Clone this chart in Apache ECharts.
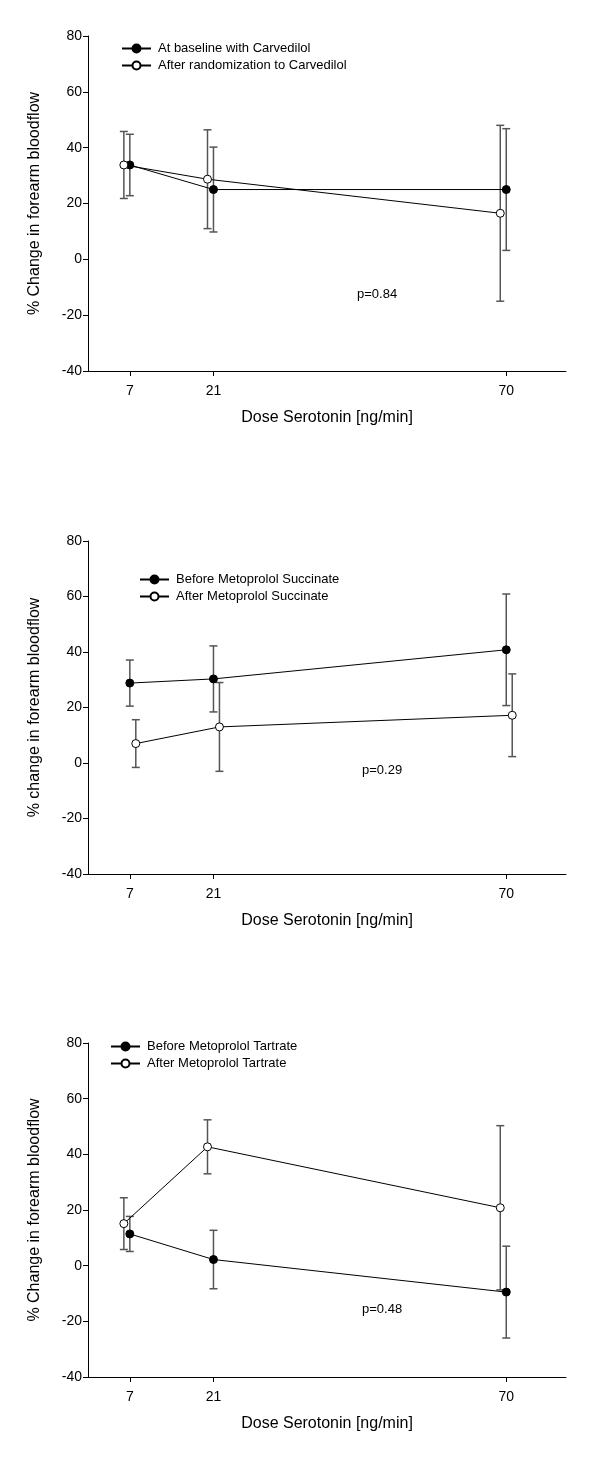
<!DOCTYPE html>
<html>
<head>
<meta charset="utf-8">
<script src="https://cdn.jsdelivr.net/npm/echarts@6/dist/echarts.min.js"></script>
<style>html,body{margin:0;padding:0;background:#fff}#c{width:600px;height:1459px}</style>
</head>
<body>
<div id="c"></div>
<script>
// ---------- data ----------
const doseTicks = [7, 21, 70];
const yTicks = { min: -40, max: 80, interval: 20 };

// Panel 1: Carvedilol
const p1Names = ['At baseline with Carvedilol', 'After randomization to Carvedilol'];
const p1FilledX = [7, 21, 70];
const p1FilledMean = [33.8, 25.0, 25.0];
const p1FilledErr = [11.0, 15.2, 21.8];
const p1OpenX = [6, 20, 69];
const p1OpenMean = [33.8, 28.7, 16.5];
const p1OpenErr = [12.0, 17.7, 31.5];
const p1P = 'p=0.84';

// Panel 2: Metoprolol Succinate
const p2Names = ['Before Metoprolol Succinate', 'After Metoprolol Succinate'];
const p2FilledX = [7, 21, 70];
const p2FilledMean = [28.8, 30.3, 40.8];
const p2FilledErr = [8.3, 11.9, 20.1];
const p2OpenX = [8, 22, 71];
const p2OpenMean = [7.0, 13.0, 17.2];
const p2OpenErr = [8.6, 16.0, 14.9];
const p2P = 'p=0.29';

// Panel 3: Metoprolol Tartrate
const p3Names = ['Before Metoprolol Tartrate', 'After Metoprolol Tartrate'];
const p3FilledX = [7, 21, 70];
const p3FilledMean = [11.4, 2.2, -9.5];
const p3FilledErr = [6.3, 10.5, 16.5];
const p3OpenX = [6, 20, 69];
const p3OpenMean = [15.1, 42.7, 20.8];
const p3OpenErr = [9.3, 9.7, 29.5];
const p3P = 'p=0.48';

const yTitles = ['% Change in forearm bloodflow', '% change in forearm bloodflow', '% Change in forearm bloodflow'];
const xTitle = 'Dose Serotonin [ng/min]';

// ---------- build ----------
const FONT = 'Liberation Sans, Arial, sans-serif';
const panels = [
  { names: p1Names, fx: p1FilledX, fm: p1FilledMean, fe: p1FilledErr, ox: p1OpenX, om: p1OpenMean, oe: p1OpenErr, p: p1P,
    top: 36, height: 335, legLeft: 121, legTop: 42, pX: 378, pY: 296 },
  { names: p2Names, fx: p2FilledX, fm: p2FilledMean, fe: p2FilledErr, ox: p2OpenX, om: p2OpenMean, oe: p2OpenErr, p: p2P,
    top: 541, height: 333, legLeft: 139, legTop: 573, pX: 383, pY: 772 },
  { names: p3Names, fx: p3FilledX, fm: p3FilledMean, fe: p3FilledErr, ox: p3OpenX, om: p3OpenMean, oe: p3OpenErr, p: p3P,
    top: 1043, height: 334, legLeft: 110, legTop: 1040, pX: 383, pY: 1311 }
];

const grids = [], xAxes = [], yAxes = [], series = [], legends = [], graphics = [];

function errSeries(i, xs, means, errs) {
  return {
    type: 'custom', xAxisIndex: i, yAxisIndex: i, silent: true, z: 1,
    data: xs.map((x, k) => [x, means[k] - errs[k], means[k] + errs[k]]),
    renderItem: function (params, api) {
      const lo = api.coord([api.value(0), api.value(1)]);
      const hi = api.coord([api.value(0), api.value(2)]);
      const w = 4;
      const st = { stroke: '#555', lineWidth: 1.5 };
      return { type: 'group', children: [
        { type: 'line', shape: { x1: lo[0], y1: lo[1], x2: hi[0], y2: hi[1] }, style: st },
        { type: 'line', shape: { x1: lo[0] - w, y1: lo[1], x2: lo[0] + w, y2: lo[1] }, style: st },
        { type: 'line', shape: { x1: hi[0] - w, y1: hi[1], x2: hi[0] + w, y2: hi[1] }, style: st }
      ]};
    }
  };
}

panels.forEach((P, i) => {
  grids.push({ left: 88, right: 34, top: P.top, height: P.height });
  xAxes.push({
    type: 'value', gridIndex: i, min: 0, max: 80,
    name: xTitle, nameLocation: 'middle', nameGap: 39,
    nameTextStyle: { fontFamily: FONT, fontSize: 16, color: '#000' },
    axisLine: { onZero: false, lineStyle: { color: '#000', width: 1 } },
    axisTick: { show: true, length: 5, inside: false, customValues: doseTicks, lineStyle: { color: '#000' } },
    axisLabel: { customValues: doseTicks, fontFamily: FONT, fontSize: 14, color: '#000', margin: 13 },
    splitLine: { show: false }
  });
  yAxes.push({
    type: 'value', gridIndex: i, min: yTicks.min, max: yTicks.max, interval: yTicks.interval,
    name: yTitles[i], nameLocation: 'middle', nameGap: 45, nameRotate: 90,
    nameTextStyle: { fontFamily: FONT, fontSize: 16, color: '#000' },
    axisLine: { show: true, onZero: false, lineStyle: { color: '#000', width: 1 } },
    axisTick: { show: true, length: 5, lineStyle: { color: '#000' } },
    axisLabel: { fontFamily: FONT, fontSize: 14, color: '#000', margin: 6 },
    splitLine: { show: false }
  });
  series.push(errSeries(i, P.fx, P.fm, P.fe));
  series.push(errSeries(i, P.ox, P.om, P.oe));
  series.push({
    name: P.names[0], type: 'line', xAxisIndex: i, yAxisIndex: i, z: 3,
    data: P.fx.map((x, k) => [x, P.fm[k]]),
    symbol: 'circle', symbolSize: 8, showAllSymbol: true,
    lineStyle: { color: '#000', width: 1 },
    itemStyle: { color: '#000', borderColor: '#000', borderWidth: 1 },
    animation: false
  });
  series.push({
    name: P.names[1], type: 'line', xAxisIndex: i, yAxisIndex: i, z: 4,
    data: P.ox.map((x, k) => [x, P.om[k]]),
    symbol: 'circle', symbolSize: 8, showAllSymbol: true,
    lineStyle: { color: '#000', width: 1 },
    itemStyle: { color: '#fff', borderColor: '#000', borderWidth: 1 },
    animation: false
  });
  legends.push({
    data: P.names, orient: 'vertical', left: P.legLeft, top: P.legTop,
    itemWidth: 29, itemHeight: 10, itemGap: 4, padding: 0,
    textStyle: { fontFamily: FONT, fontSize: 13, color: '#000', padding: [0, 0, 0, 2] },
    selectedMode: false
  });
  graphics.push({
    type: 'text', left: P.pX - 21, top: P.pY - 8,
    style: { text: P.p, font: '13px ' + FONT, fill: '#000' }
  });
});

const chart = echarts.init(document.getElementById('c'), null, { renderer: 'canvas' });
chart.setOption({
  animation: false,
  backgroundColor: '#fff',
  grid: grids, xAxis: xAxes, yAxis: yAxes, series: series, legend: legends, graphic: graphics
});
</script>
</body>
</html>
